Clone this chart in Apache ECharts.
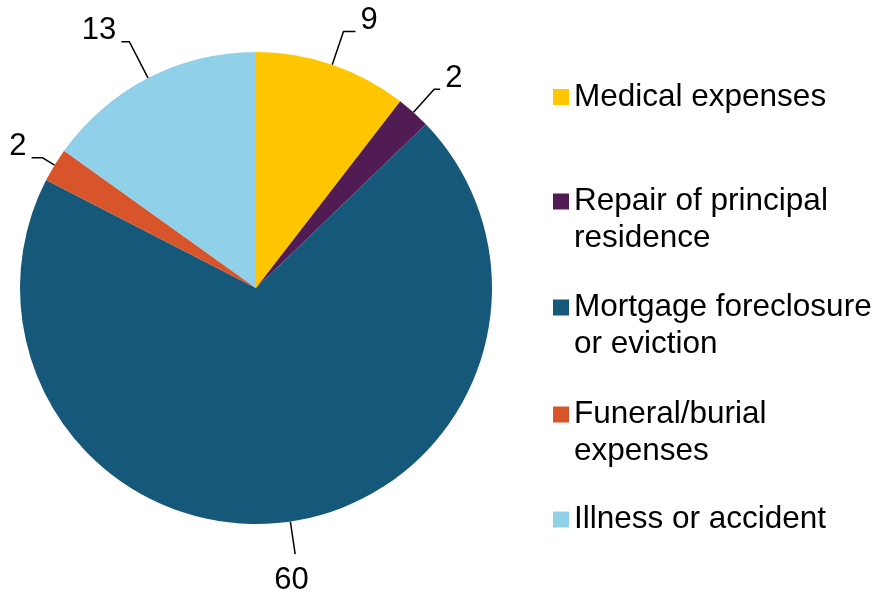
<!DOCTYPE html>
<html>
<head>
<meta charset="utf-8">
<script src="https://cdn.jsdelivr.net/npm/echarts@6/dist/echarts.min.js"></script>
<style>
  html, body { margin: 0; padding: 0; background: #fff; }
  #chart { width: 879px; height: 598px; }
</style>
</head>
<body>
<div id="chart"></div>
<script>
const categories = [
  "Medical expenses",
  "Repair of principal residence",
  "Mortgage foreclosure or eviction",
  "Funeral/burial expenses",
  "Illness or accident"
]
const legendText = [
  "Medical expenses",
  "Repair of principal\nresidence",
  "Mortgage foreclosure\nor eviction",
  "Funeral/burial\nexpenses",
  "Illness or accident"
]
const values = [9, 2, 60, 2, 13]
const colors = ["#FFC600", "#511C53", "#165879", "#D8542A", "#90D0E8"]

// leader lines and legend rows (styling only)
const lineLen = [35, 31, 33, 14, 41]
const lineLen2 = [12, 6, 0, 11, 8]
const legendCenters = [96.5, 201, 307, 414, 519]

const font = "'Liberation Sans', Arial, sans-serif"

const chart = echarts.init(document.getElementById("chart"))

const pieData = categories.map((name, i) => ({
  name: name,
  value: values[i],
  itemStyle: { color: colors[i] },
  labelLine: { length: lineLen[i], length2: lineLen2[i] },
  label: lineLen2[i] === 0
    ? { lineHeight: 26, padding: [0, 0, 0, -26] }
    : { lineHeight: 22 }
}))

// pad every legend text to three lines so the marker lines up with the first line
const legends = categories.map((name, i) => ({
  data: [name],
  orient: "vertical",
  left: 553,
  top: legendCenters[i] - 55,
  padding: 0,
  icon: "rect",
  itemWidth: 16,
  itemHeight: 16,
  selectedMode: false,
  formatter: () => legendText[i].includes("\n") ? "\n" + legendText[i] : "\n" + legendText[i] + "\n",
  textStyle: {
    fontFamily: font,
    fontSize: 31.5,
    color: "#000",
    lineHeight: 37
  }
}))

chart.setOption({
  animation: false,
  color: colors,
  legend: legends,
  series: [
    {
      type: "pie",
      center: [256, 288],
      radius: 236,
      startAngle: 90,
      clockwise: true,
      avoidLabelOverlap: false,
      emphasis: { disabled: true },
      itemStyle: { borderWidth: 0 },
      label: {
        show: true,
        position: "outside",
        // top labels sit on their line, the bottom one hangs below it
        formatter: p => p.dataIndex === 2 ? "\n\n" + p.value : p.value + "\n",
        fontFamily: font,
        fontSize: 31,
        color: "#000",
        distanceToLabelLine: 5
      },
      labelLine: {
        show: true,
        lineStyle: { color: "#000", width: 1.5 }
      },
      data: pieData
    }
  ]
})
</script>
</body>
</html>
